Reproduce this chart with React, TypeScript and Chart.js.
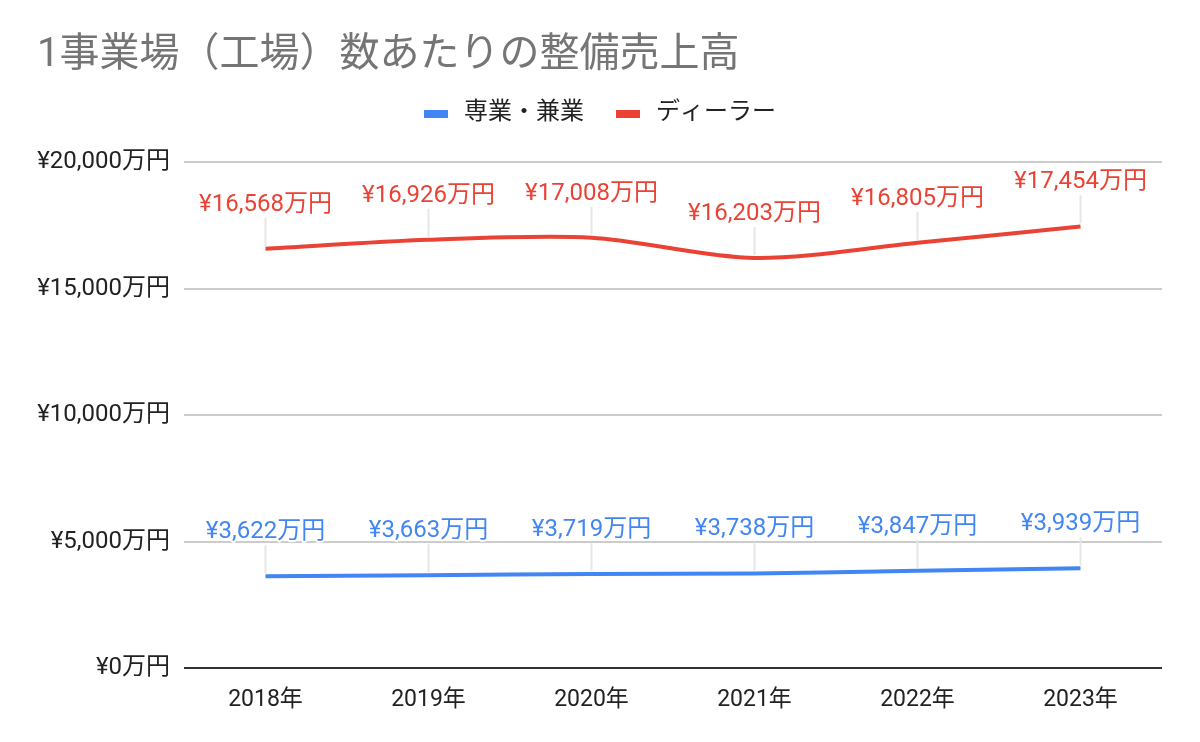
import React, { useEffect, useRef } from "react";
import { Chart, registerables } from "chart.js";

Chart.register(...registerables);

const titleText = "1事業場（工場）数あたりの整備売上高";
const categories = ["2018年", "2019年", "2020年", "2021年", "2022年", "2023年"];
const seriesNames = ["専業・兼業", "ディーラー"];
const specialistValues = [3622, 3663, 3719, 3738, 3847, 3939];
const dealerValues = [16568, 16926, 17008, 16203, 16805, 17454];
const yTicks = [0, 5000, 10000, 15000, 20000];
const colors = ["#4285F4", "#EA4335"];

const FONT = "Roboto, 'Noto Sans CJK JP', sans-serif";

const fmt = (v: number) => "¥" + v.toLocaleString("en-US") + "万円";

const overlayPlugin = {
  id: "overlay",
  afterDraw(chart: any) {
    const ctx = chart.ctx;
    ctx.save();
    // title
    ctx.font = `40px ${FONT}`;
    ctx.fillStyle = "#757575";
    ctx.textAlign = "left";
    ctx.textBaseline = "middle";
    ctx.fillText(titleText, 37, 56);
    // legend
    ctx.font = `24px ${FONT}`;
    const items = [
      { x: 424, textX: 464 },
      { x: 616, textX: 656 },
    ];
    items.forEach((it, i) => {
      ctx.fillStyle = colors[i];
      ctx.fillRect(it.x, 110, 24, 8);
      ctx.fillStyle = "#222";
      ctx.fillText(seriesNames[i], it.textX, 113);
    });
    ctx.restore();
  },
  afterDatasetsDraw(chart: any) {
    const ctx = chart.ctx;
    ctx.save();
    chart.data.datasets.forEach((ds: any, di: number) => {
      const meta = chart.getDatasetMeta(di);
      meta.data.forEach((pt: any, i: number) => {
        const v = ds.data[i];
        ctx.strokeStyle = "#e6e6e6";
        ctx.lineWidth = 2;
        ctx.beginPath();
        ctx.moveTo(pt.x, pt.y - 3);
        ctx.lineTo(pt.x, pt.y - 31);
        ctx.stroke();
        ctx.font = `24px ${FONT}`;
        ctx.textAlign = "center";
        ctx.textBaseline = "middle";
        ctx.lineJoin = "round";
        ctx.strokeStyle = "#ffffff";
        ctx.lineWidth = 4;
        const txt = fmt(v);
        ctx.strokeText(txt, pt.x, pt.y - 44);
        ctx.fillStyle = colors[di];
        ctx.fillText(txt, pt.x, pt.y - 44);
      });
    });
    ctx.restore();
  },
};

export default function App() {
  const ref = useRef<HTMLCanvasElement>(null);
  useEffect(() => {
    document.body.style.margin = "0";
    const chart = new Chart(ref.current!, {
      type: "line",
      data: {
        labels: categories,
        datasets: [
          {
            label: seriesNames[0],
            data: specialistValues,
            borderColor: colors[0],
            backgroundColor: colors[0],
            borderWidth: 4,
            pointRadius: 0,
            tension: 0.3,
          },
          {
            label: seriesNames[1],
            data: dealerValues,
            borderColor: colors[1],
            backgroundColor: colors[1],
            borderWidth: 4,
            pointRadius: 0,
            tension: 0.3,
          },
        ],
      },
      options: {
        animation: false,
        responsive: false,
        devicePixelRatio: 1,
        layout: { padding: { top: 162, right: 38, left: 0, bottom: 0 } },
        plugins: {
          legend: { display: false },
          title: { display: false },
          tooltip: { enabled: false },
        },
        scales: {
          x: {
            offset: true,
            grid: { display: false },
            border: { display: false },
            ticks: { color: "#222", font: { family: FONT, size: 23 }, padding: 10 },
            afterFit: (s: any) => {
              s.height = 74;
            },
          },
          y: {
            min: 0,
            max: 20000,
            afterBuildTicks: (s: any) => {
              s.ticks = yTicks.map((v) => ({ value: v }));
            },
            afterFit: (s: any) => {
              s.width = 184;
            },
            border: { display: false },
            grid: {
              drawTicks: false,
              color: (c: any) => (c.tick && c.tick.value === 0 ? "#333333" : "#cccccc"),
              lineWidth: 2,
            },
            ticks: {
              color: "#222",
              padding: 14,
              font: { family: FONT, size: 24 },
              callback: (v: any) => fmt(Number(v)),
            },
          },
        },
      },
      plugins: [overlayPlugin],
    });
    return () => chart.destroy();
  }, []);
  return (
    <div style={{ width: 1200, height: 742, position: "relative" }}>
      <canvas ref={ref} width={1200} height={742} style={{ width: 1200, height: 742 }} />
    </div>
  );
}
